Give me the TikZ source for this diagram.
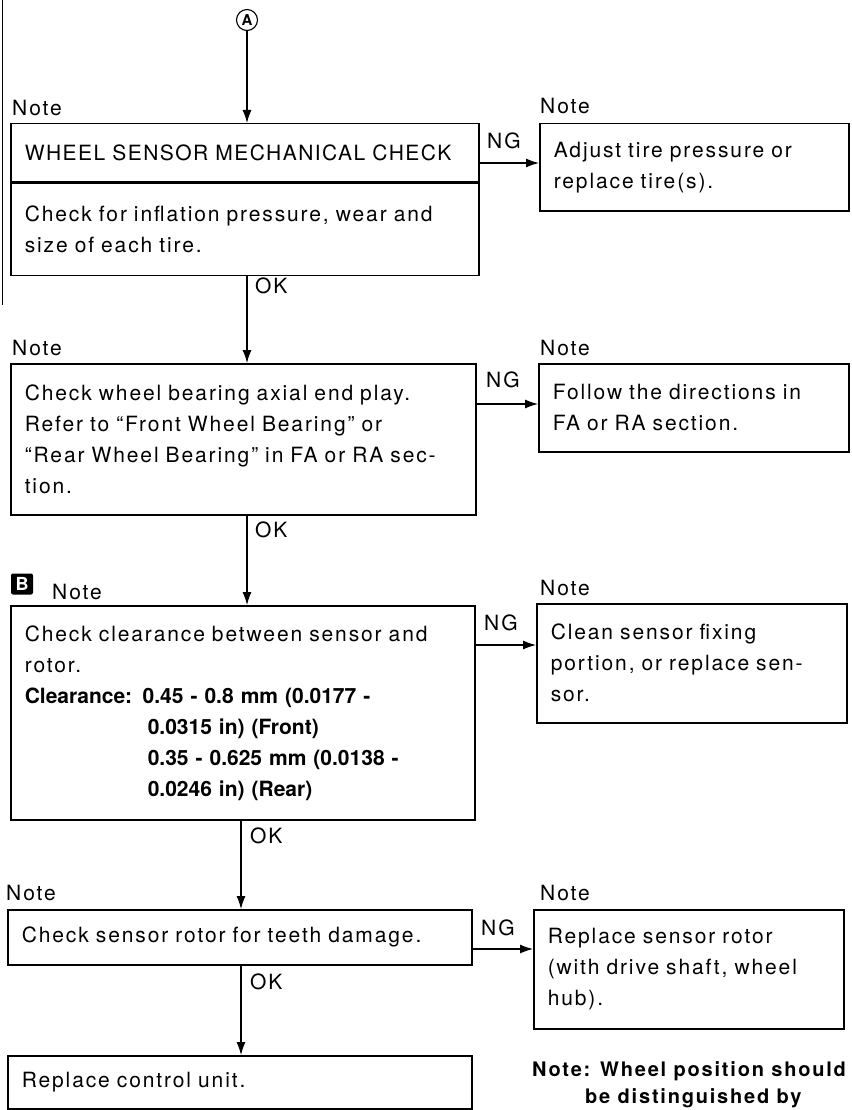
\documentclass[tikz,border=0pt]{standalone}
\usepackage{fontspec}
\newfontfamily\manual{TeX Gyre Heros}[LetterSpace=9]
\newfontfamily\manualbf{TeX Gyre Heros Bold}
\usetikzlibrary{arrows.meta}
\def\cind{\hspace*{123pt}}

\begin{document}
\begin{tikzpicture}[x=1pt,y=-1pt,
  every node/.append style={font=\manual\fontsize{21}{31}\selectfont},
  box/.style={draw, line width=1.5pt, rectangle, anchor=north west, inner xsep=14pt, inner ysep=0pt, align=left},
  flow/.style={-{Latex[length=13pt,width=9pt]}, line width=1.1pt},
  lbl/.style={anchor=west, inner sep=0pt}]
\useasboundingbox (0,0) rectangle (851,1110);

% Seitenrand links
\draw[line width=1pt] (2,0) -- (2,305);

% Einstieg A
\node[circle, draw, line width=1.1pt, inner sep=0pt, minimum size=21pt,
      font=\manualbf\fontsize{15}{15}\selectfont] (A) at (247,20) {A};

% Hoehen der NG-Pfeile
\coordinate (ng1) at (0,163);
\coordinate (ng2) at (0,404);
\coordinate (ng3) at (0,645);
\coordinate (ng4) at (0,949);
\coordinate (colB) at (241,0);

% Stufe 1
\node[lbl] (note1) at (12,108) {Note};
\node[lbl] (note1r) at (540,106) {Note};
\node[box, minimum width=468pt, minimum height=58pt, text width=440pt] (wsmc) at (10,123)
  {\addfontfeature{LetterSpace=7}WHEEL SENSOR MECHANICAL CHECK};
\node[box, minimum width=468pt, minimum height=92pt, text width=440pt] (tire) at (wsmc.south west)
  {Check for inflation pressure, wear and\\size of each tire.};
\node[box, minimum width=309pt, minimum height=87pt, text width=281pt] (adjust) at (539,123)
  {Adjust tire pressure or\\replace tire(s).};

% Stufe 2
\node[lbl] (note2) at (12,348) {Note};
\node[lbl] (note2r) at (540,348) {Note};
\node[box, minimum width=465pt, minimum height=151pt, text width=437pt] (bearing) at (10,363)
  {Check wheel bearing axial end play.\\Refer to “Front Wheel Bearing” or\\“Rear Wheel Bearing” in FA or RA sec-\\tion.};
\node[box, minimum width=310pt, minimum height=88pt, text width=282pt] (follow) at (538,363)
  {Follow the directions in\\FA or RA section.};

% Stufe 3
\node[fill=black, rounded corners=2pt, inner sep=0pt, minimum width=22pt, minimum height=21pt, text=white,
      font=\manualbf\fontsize{18}{18}\selectfont] (iconB) at (22,584) {B};
\node[lbl] (note3) at (52,592) {Note};
\node[lbl] (note3r) at (540,588) {Note};
\node[box, minimum width=464pt, minimum height=214pt, text width=436pt] (clear) at (10,605)
  {Check clearance between sensor and\\rotor.\\
   \manualbf Clearance: 0.45 - 0.8 mm (0.0177 -\\
   \cind 0.0315 in) (Front)\\
   \cind 0.35 - 0.625 mm (0.0138 -\\
   \cind 0.0246 in) (Rear)};
\node[box, minimum width=310pt, minimum height=119pt, text width=282pt] (cleanse) at (536,603)
  {Clean sensor fixing\\portion, or replace sen-\\sor.};

% Stufe 4
\node[lbl] (note4) at (6,893) {Note};
\node[lbl] (note4r) at (540,893) {Note};
\node[box, minimum width=464pt, minimum height=55pt, text width=436pt] (rotor) at (7,909)
  {Check sensor rotor for teeth damage.};
\node[box, minimum width=310pt, minimum height=119pt, text width=282pt] (rotorrep) at (533,909)
  {Replace sensor rotor\\(with drive shaft, wheel\\hub).};

% Stufe 5
\node[box, minimum width=464pt, minimum height=53pt, text width=436pt] (ecu) at (7,1055)
  {Replace control unit.};
\node[anchor=north west, inner sep=0pt, align=left,
      font=\manual\bfseries\fontsize{20}{27}\selectfont] (wheelnote) at (532,1061)
  {Note: Wheel position should\\\hspace*{53pt}be distinguished by};

% OK-Pfeile
\draw[flow] (A) -- (A |- wsmc.north);
\draw[flow] (tire.south -| A) -- (A |- bearing.north);
\draw[flow] (bearing.south -| A) -- (A |- clear.north);
\draw[flow] (clear.south -| colB) -- (colB |- rotor.north);
\draw[flow] (rotor.south -| colB) -- (colB |- ecu.north);
\node[lbl] (ok1) at (255,286) {OK};
\node[lbl] (ok2) at (255,530) {OK};
\node[lbl] (ok3) at (250,836) {OK};
\node[lbl] (ok4) at (250,982) {OK};

% NG-Pfeile
\draw[flow] (wsmc.east |- ng1) -- (adjust.west |- ng1);
\draw[flow] (bearing.east |- ng2) -- (follow.west |- ng2);
\draw[flow] (clear.east |- ng3) -- (cleanse.west |- ng3);
\draw[flow] (rotor.east |- ng4) -- (rotorrep.west |- ng4);
\node[lbl] (ng1t) at (487,141) {NG};
\node[lbl] (ng2t) at (486,380) {NG};
\node[lbl] (ng3t) at (484,623) {NG};
\node[lbl] (ng4t) at (481,928) {NG};
\end{tikzpicture}
\end{document}
